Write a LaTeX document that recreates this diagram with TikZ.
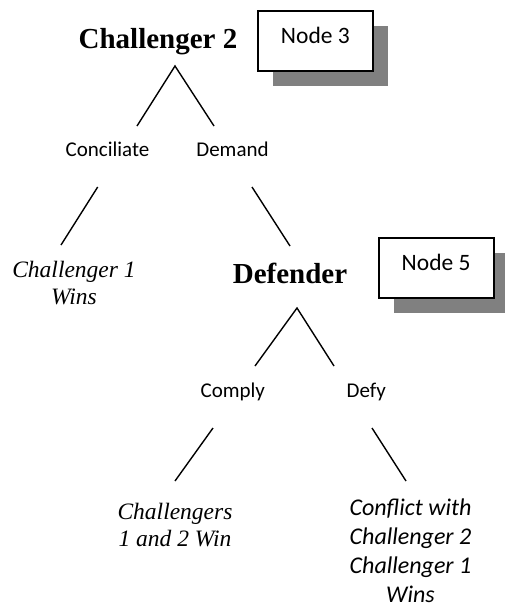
\documentclass[tikz,border=0pt]{standalone}
\usepackage{fontspec}
\setmainfont{Liberation Serif}
\newfontfamily\calibri{Carlito}
\usetikzlibrary{shadows}

\begin{document}
\begin{tikzpicture}[x=1pt, y=-1pt, line width=1.4pt,
        player/.style = {font=\fontsize{29}{33}\selectfont\bfseries, inner sep=0pt, anchor=base},
        move/.style = {font=\calibri\fontsize{21}{25}\selectfont, inner sep=0pt, anchor=base},
        payoff/.style = {font=\fontsize{23.5}{27}\selectfont\itshape, align=center, inner sep=0pt, anchor=base},
        payoffsans/.style = {font=\calibri\fontsize{24}{29}\selectfont\itshape, align=center, inner sep=0pt, anchor=base},
        tag/.style = {draw, line width=1.8pt, fill=white, anchor=north west, minimum width=115pt, minimum height=60pt,
                      inner ysep=10pt, text height=22.7pt, text depth=17.3pt, font=\calibri\fontsize{23.5}{28}\selectfont,
                      drop shadow={shadow xshift=15.5pt, shadow yshift=-15.5pt, fill=gray, opacity=1}}]

        \useasboundingbox (0,0) rectangle (504,608);

        % Challenger 2 moves
        \node[player] (chal2) at (158,48) {Challenger 2};
        \node[tag] (node3) at (257,10) {Node 3};
        \node[move] (concil) at (107.5,156) {Conciliate};
        \node[move] (demand) at (232.5,156) {Demand};
        \coordinate (c2fork) at (175,66); \coordinate (c2left) at (137,126); \coordinate (c2right) at (214,126);
        \draw (c2left) -- (c2fork) -- (c2right);

        % outcomes of Challenger 2 (multi-line nodes sit on their last line)
        \node[payoff] (c1wins) at (74,304) {Challenger 1\\Wins};
        \node[player] (defender) at (290,283) {Defender};
        \node[tag] (node5) at (377.7,237) {Node 5};
        \coordinate (conc1) at (97.7,187); \coordinate (conc2) at (61,245);
        \coordinate (dem1) at (252,187); \coordinate (dem2) at (290,246);
        \draw (conc1) -- (conc2);
        \draw (dem1) -- (dem2);

        % Defender moves
        \node[move] (comply) at (232.8,397.7) {Comply};
        \node[move] (defy) at (366.3,397.7) {Defy};
        \coordinate (deffork) at (297,308); \coordinate (defleft) at (255,366); \coordinate (defright) at (334,366);
        \draw (defleft) -- (deffork) -- (defright);

        % final outcomes
        \node[payoff] (bothwin) at (175,546.7) {Challengers\\1 and 2 Win};
        \node[payoffsans] (conflict) at (410.5,602) {Conflict with\\Challenger 2\\Challenger 1\\Wins};
        \coordinate (comp1) at (213,428); \coordinate (comp2) at (175,481);
        \coordinate (defy1) at (372,428); \coordinate (defy2) at (406,481);
        \draw (comp1) -- (comp2);
        \draw (defy1) -- (defy2);
    \end{tikzpicture}
\end{document}
